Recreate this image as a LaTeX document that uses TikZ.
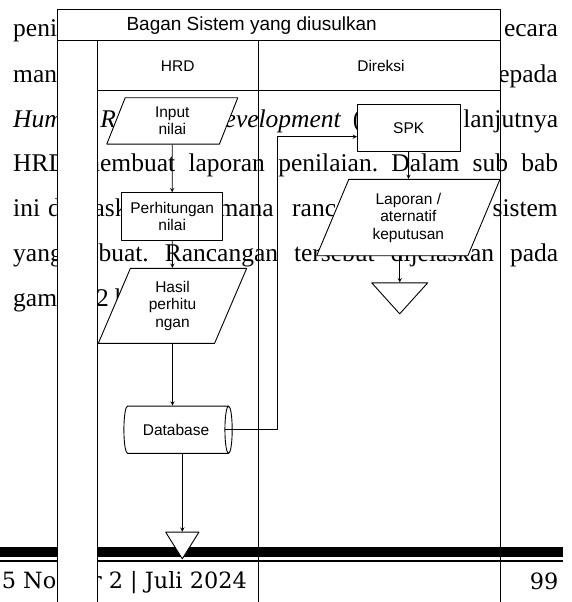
\documentclass[tikz,border=0pt]{standalone}
\usepackage{fontspec}
\setmainfont{Liberation Serif}
\newfontfamily\arialfont{Liberation Sans}
\newfontfamily\footfont{DejaVu Serif}
\usetikzlibrary{shapes.geometric,calc}
\newcommand{\jline}[1]{\hbox to 545pt{\spaceskip=0pt plus 1fil\xspaceskip=0pt plus 1fil #1}}

\begin{document}
\begin{tikzpicture}[x=1pt,y=-1pt,line join=round,>=stealth,
    txt/.style={font=\fontsize{25.5}{30}\selectfont,inner sep=0pt,anchor=base west},
    foot/.style={font=\footfont\fontsize{22.4}{26}\selectfont,inner sep=0pt,anchor=base east},
    lbl/.style={font=\arialfont\fontsize{15.5}{17.5}\selectfont,align=center,inner sep=0pt},
    proses/.style={lbl,draw,fill=white,line width=0.9pt,minimum width=101pt,minimum height=48pt},
    data/.style={lbl,draw,fill=white,line width=0.9pt,trapezium,trapezium left angle=57,
      trapezium right angle=123,trapezium stretches body},
    simpan/.style={lbl,draw,fill=white,line width=0.9pt,cylinder,aspect=0.64,
      minimum width=47.3pt,minimum height=108.3pt},
    akhir/.style={draw,fill=white,line width=0.9pt,isosceles triangle,isosceles triangle stretches,
      shape border rotate=270,inner sep=0pt,anchor=apex},
    garis/.style={->,line width=0.9pt}]
\useasboundingbox (0,0) rectangle (571,602);
\clip (0,0) rectangle (571,602);

% teks halaman di belakang bagan
\node[txt] (l1a) at (13,37) {peni};
\node[txt,anchor=base east] (l1b) at (558,37) {ecara};
\node[txt] (l2a) at (13,82) {man};
\node[txt,anchor=base east] (l2b) at (558,82) {epada};
\node[txt] (l3) at (13,127) {\jline{{\itshape Hum\phantom{an} Re\phantom{source} Development} (\phantom{HRD),} \phantom{se}lanjutnya}};
\node[txt] (l4) at (13,171.5) {\jline{HRD membuat laporan penilaian. Dalam sub bab}};
\node[txt] (l5a) at (13,216) {ini};
\node[txt] (l5b) at (48,216) {d\phantom{ijel}ask\phantom{an}};
\node[txt,anchor=base east] (l5c) at (274,216) {\phantom{bagai}mana};
\node[txt] (l5d) at (292,216) {ranca\phantom{ngan}};
\node[txt,anchor=base east] (l5e) at (558,216) {sistem};
\node[txt] (l6) at (13,261) {\jline{yang \phantom{di}buat. Rancangan tersebut dijelaskan pada}};
\node[txt] (l7) at (13,306) {gam\phantom{bar} 2 b};

% kaki halaman
\fill (0,547) rectangle (563,557);
\fill (0,560) rectangle (563,561.5);
\node[foot] (edisi) at (247,588) {15 No\phantom{mo}r 2 | Juli 2024};
\node[foot] (hal) at (558.5,589) {99};

% bingkai bagan
\fill[white] (57,10) rectangle (500,90);
\fill[white] (57,90) rectangle (97,602);
\draw[line width=1pt] (57,602) -- (57,10) -- (500,10) -- (500,602);
\draw[line width=1pt] (57,41) -- (500,41) (97,90) -- (500,90) (97,41) -- (97,602) (258.5,41) -- (258.5,602);
\node[lbl,font=\arialfont\fontsize{19}{20}\selectfont] (judul) at (251.7,25.5) {Bagan Sistem yang diusulkan};
\node[lbl] (hrd) at (177.7,66) {HRD};
\node[lbl] (direksi) at (381,66) {Direksi};

% simbol
\node[data,minimum width=131pt,minimum height=46.3pt] (input) at (172.3,120.9) {Input\\nilai};
\node[proses] (hitung) at (172.2,216.7) {Perhitungan\\nilai};
\node[data,minimum width=148.4pt,minimum height=75pt] (hasil) at (172.5,305.8) {Hasil\\perhitu\\ngan};
\node[simpan] (database) at (176,429.7) {Database};
\node[akhir,minimum width=33.3pt,minimum height=26.7pt] (akhir1) at (182.3,560) {};
\node[proses,minimum width=102.7pt,minimum height=47.4pt] (spk) at (408.7,128) {SPK};
\node[data,minimum width=183.3pt,minimum height=76.4pt] (lapor) at (408.35,217.5) {Laporan /\\aternatif\\keputusan};
\node[akhir,minimum width=56pt,minimum height=31pt] (akhir2) at (399.7,315) {};
\coordinate (belok) at (277.3,136.7);

% alur
\draw[garis] (input) -- (hitung);
\draw[garis] (hitung) -- (hasil);
\draw[garis] (hasil.south) -- (hasil.south |- database.north);
\draw[garis] (akhir1.north |- database.south) -- (akhir1.north);
\draw[garis] ($(database.top)+(-7.5,0)$) -| (belok) -- (belok -| spk.west);
\draw[garis] (spk) -- (lapor);
\draw[garis] (akhir2.north |- lapor.south) -- (akhir2.north);
\end{tikzpicture}
\end{document}
